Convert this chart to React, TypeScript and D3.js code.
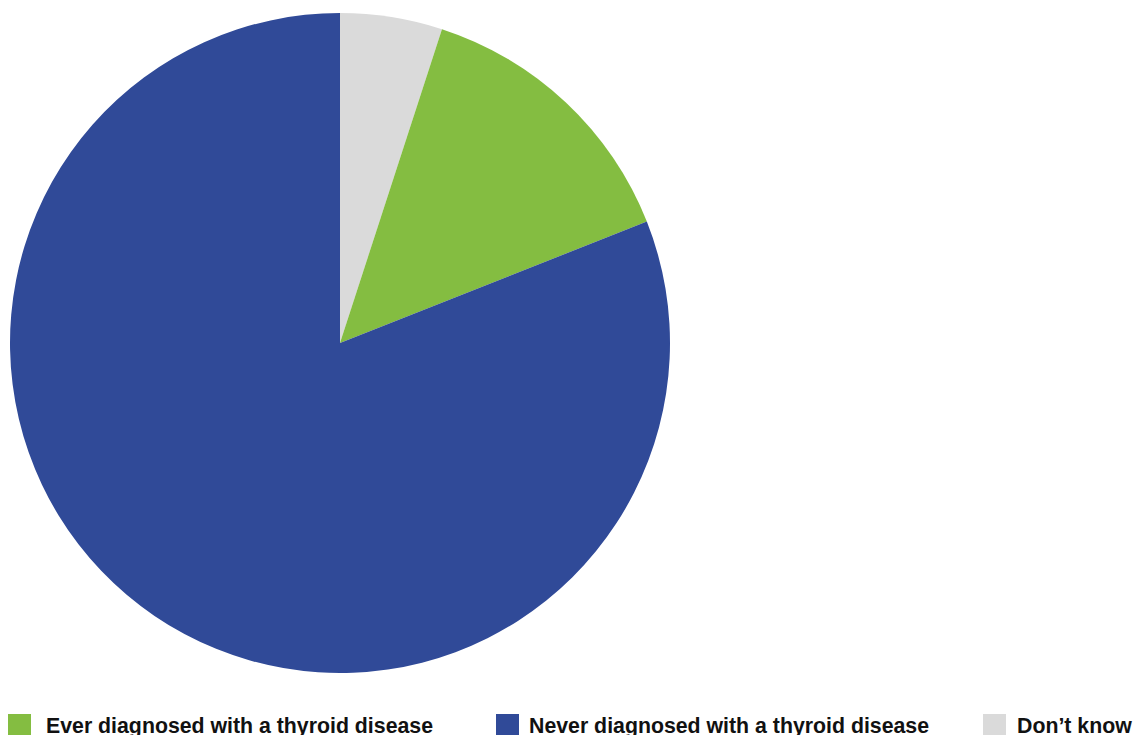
import React from "react";
import * as d3 from "d3";

const categories = [
  "Ever diagnosed with a thyroid disease",
  "Never diagnosed with a thyroid disease",
  "Don\u2019t know",
];
const shares = [14, 81, 5];
const colors = ["#84bd41", "#304a98", "#dadada"];
// order of slices clockwise from 12 o'clock
const sliceOrder = [2, 0, 1];
const legendX = [8, 496, 983];
const legendTextX = [46, 529, 1017];

const W = 1138;
const H = 735;

export default function App() {
  const cx = 340;
  const cy = 343;
  const r = 330;

  const pie = d3
    .pie<number>()
    .sort(null)
    .value((i) => shares[i]);
  const arcs = pie(sliceOrder);
  const arc = d3.arc<d3.PieArcDatum<number>>().innerRadius(0).outerRadius(r);

  return (
    <svg
      width={W}
      height={H}
      style={{ position: "fixed", left: 0, top: 0, background: "#fff" }}
    >
      <g transform={`translate(${cx},${cy})`}>
        {arcs.map((a) => (
          <path key={a.data} d={arc(a) || ""} fill={colors[a.data]} />
        ))}
      </g>
      <g fontFamily="'Liberation Sans', Arial, sans-serif" fontWeight="bold" fontSize={21.3} fill="#111">
        {categories.map((c, i) => (
          <g key={c}>
            <rect x={legendX[i]} y={714} width={23} height={23} fill={colors[i]} />
            <text x={legendTextX[i]} y={732.5}>
              {c}
            </text>
          </g>
        ))}
      </g>
    </svg>
  );
}
